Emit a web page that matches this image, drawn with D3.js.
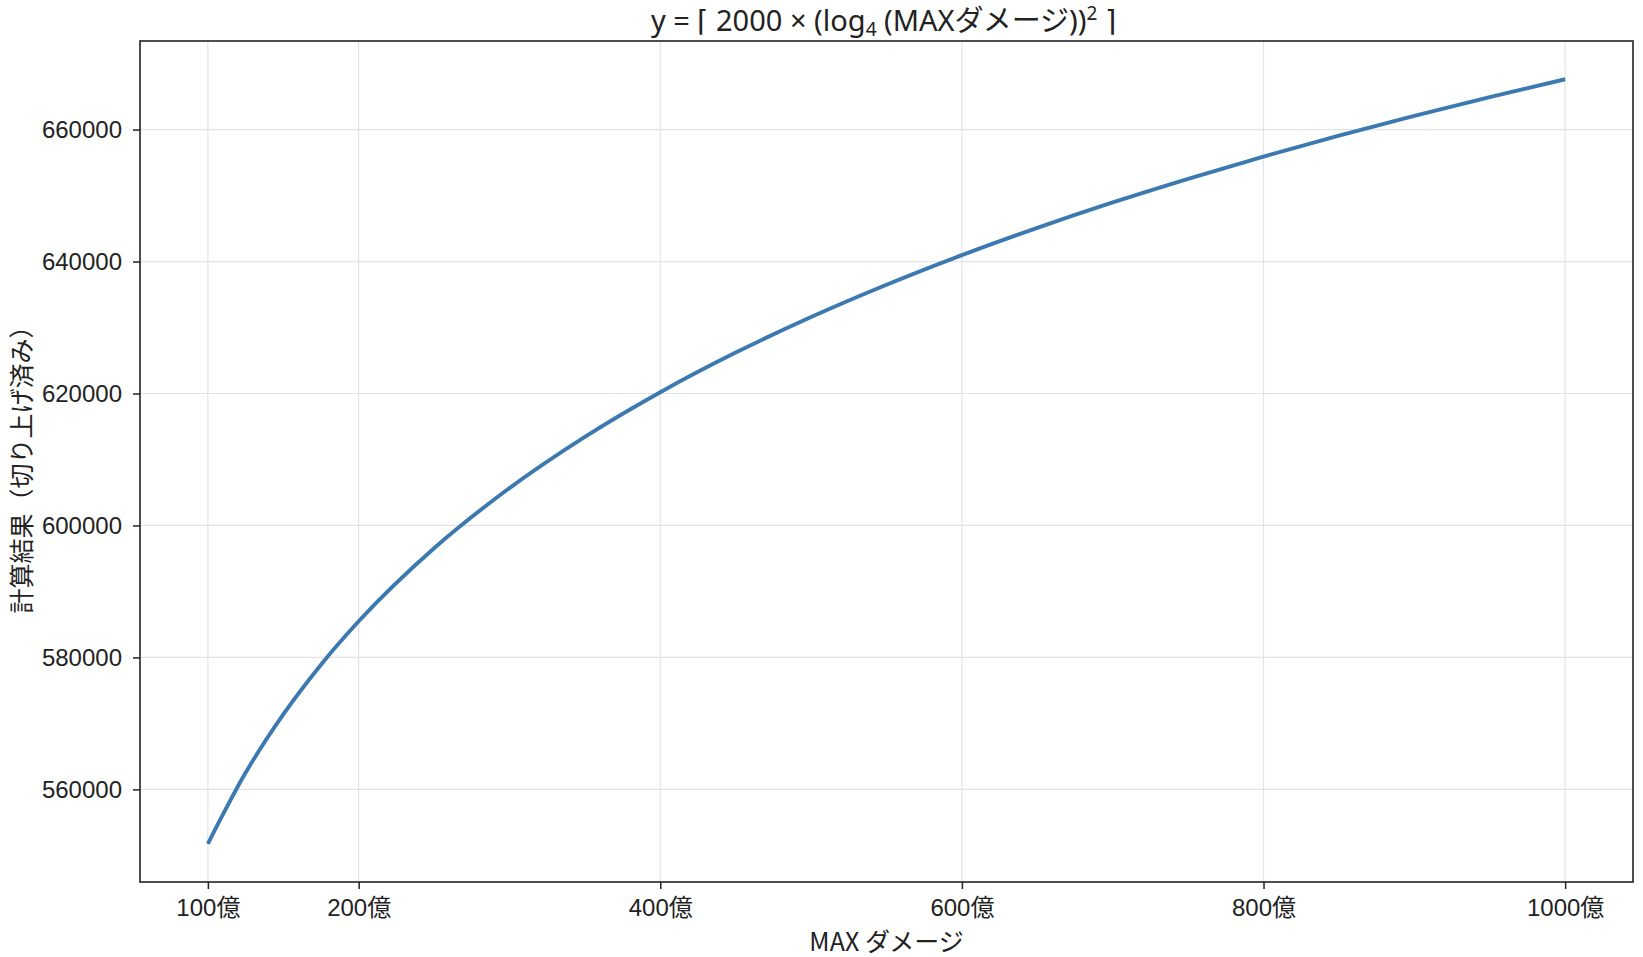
<!DOCTYPE html>
<html>
<head>
<meta charset="utf-8">
<script src="https://cdn.jsdelivr.net/npm/d3@7"></script>
<style>
  body { margin: 0; background: #fff; }
  text { fill: #222; }
</style>
</head>
<body>
<div id="chart"></div>
<script>
// MAX damage in units of 億 (1e8)
var damage = [100, 125, 150, 175, 200, 250, 300, 350, 400, 450, 500, 550, 600, 650, 700, 750, 800, 850, 900, 950, 1000]
// result (ceil applied)
var result = [551758, 562506, 571362, 578904, 585476, 596548, 605666, 613432, 620196, 626198, 631588,
              636482, 640970, 645108, 648958, 652544, 655916, 659084, 662086, 664928, 667630]
var xTicks = [100, 200, 400, 600, 800, 1000]
var yTicks = [560000, 580000, 600000, 620000, 640000, 660000]

var W = 1643, H = 957
var margin = {top: 41, right: 10, bottom: 75, left: 140}
var width = W - margin.left - margin.right
var height = H - margin.top - margin.bottom

var tickFont = '"Liberation Sans", "Noto Sans CJK JP", sans-serif'
var cjkFont = '"Noto Sans CJK JP", sans-serif'

/* Scales */
var xScale = d3.scaleLinear().domain([55, 1045]).range([0, width])
var yScale = d3.scaleLinear().domain([545964, 673424]).range([height, 0])

var svg = d3.select("#chart").append("svg")
    .attr("width", W)
    .attr("height", H)

var g = svg.append("g")
    .attr("transform", "translate(" + margin.left + "," + margin.top + ")")

/* grid */
g.append("g").selectAll("line.vx")
    .data(xTicks).enter().append("line")
    .attr("x1", d => xScale(d)).attr("x2", d => xScale(d))
    .attr("y1", 0).attr("y2", height)
    .attr("stroke", "#e3e3e3").attr("stroke-width", 1.2)
g.append("g").selectAll("line.hy")
    .data(yTicks).enter().append("line")
    .attr("y1", d => yScale(d)).attr("y2", d => yScale(d))
    .attr("x1", 0).attr("x2", width)
    .attr("stroke", "#e3e3e3").attr("stroke-width", 1.2)

/* the curve */
var line = d3.line()
    .x((d, i) => xScale(damage[i]))
    .y(d => yScale(d))
    .curve(d3.curveMonotoneX)

g.append("path")
    .datum(result)
    .attr("d", line)
    .attr("fill", "none")
    .attr("stroke", "#3d79b1")
    .attr("stroke-width", 3.9)

/* axes */
var xAxis = d3.axisBottom(xScale).tickValues(xTicks).tickSize(7).tickPadding(10)
    .tickSizeOuter(0).tickFormat(d => d + "億")
var yAxis = d3.axisLeft(yScale).tickValues(yTicks).tickSize(7).tickPadding(11)
    .tickSizeOuter(0).tickFormat(d3.format("d"))

var gx = g.append("g").attr("transform", "translate(0," + height + ")").call(xAxis)
var gy = g.append("g").call(yAxis)
;[gx, gy].forEach(function(a) {
    a.select(".domain").remove()
    a.selectAll(".tick line").attr("stroke", "#222").attr("stroke-width", 1.5)
    a.selectAll(".tick text").attr("font-family", tickFont).attr("font-size", "24px").attr("fill", "#222")
})

/* frame */
g.append("rect")
    .attr("width", width).attr("height", height)
    .attr("fill", "none").attr("stroke", "#222").attr("stroke-width", 1.6)

/* labels */
svg.append("text")
    .attr("x", margin.left + width / 2)
    .attr("y", H - 6)
    .attr("text-anchor", "middle")
    .attr("font-family", cjkFont)
    .attr("font-size", "25px")
    .text("MAX ダメージ")

svg.append("text")
    .attr("transform", "translate(31," + (margin.top + height / 2 + 2) + ") rotate(-90)")
    .attr("text-anchor", "middle")
    .attr("font-family", cjkFont)
    .attr("font-size", "25px")
    .text("計算結果（切り上げ済み）")

var title = svg.append("text")
    .attr("x", margin.left + width / 2 - 3)
    .attr("y", 31)
    .attr("text-anchor", "middle")
    .attr("font-family", '"Noto Sans", "Noto Sans CJK JP", sans-serif')
    .attr("font-size", "29px")
title.append("tspan").text("y = ⌈ 2000 × (log")
title.append("tspan").attr("font-size", "19px").attr("dy", 5).text("4")
title.append("tspan").attr("dy", -5).text(" (MAXダメージ))")
title.append("tspan").attr("font-size", "19px").attr("dy", -11).text("2")
title.append("tspan").attr("dy", 11).text("  ⌉")
</script>
</body>
</html>
